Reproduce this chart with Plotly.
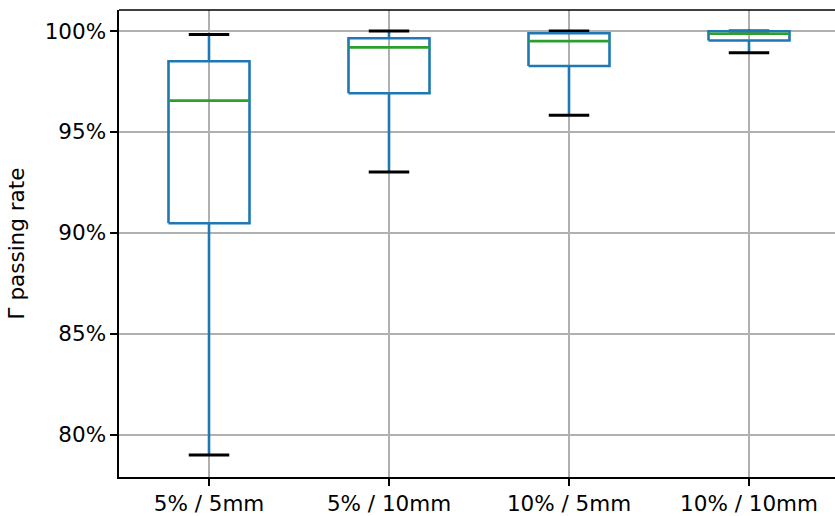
import plotly.graph_objects as go

categories = ["5% / 5mm", "5% / 10mm", "10% / 5mm", "10% / 10mm"]
whisker_low = [79.0, 93.02, 95.83, 98.92]
q1 = [90.48, 96.92, 98.27, 99.53]
median = [96.55, 99.19, 99.50, 99.86]
q3 = [98.50, 99.64, 99.89, 99.99]
whisker_high = [99.83, 100.0, 100.0, 100.0]

positions = list(range(1, len(categories) + 1))
box_w = 0.45
cap_w = box_w / 2

BLUE = "#1f77b4"
GREEN = "#2ca02c"

wx, wy, cx, cy, bx, by, mx, my = [], [], [], [], [], [], [], []
for p, lo, a, m, b, hi in zip(positions, whisker_low, q1, median, q3, whisker_high):
    wx += [p, p, None, p, p, None]
    wy += [a, lo, None, b, hi, None]
    cx += [p - cap_w / 2, p + cap_w / 2, None, p - cap_w / 2, p + cap_w / 2, None]
    cy += [lo, lo, None, hi, hi, None]
    l, r = p - box_w / 2, p + box_w / 2
    bx += [l, r, r, l, l, None]
    by += [a, a, b, b, a, None]
    mx += [l, r, None]
    my += [m, m, None]

fig = go.Figure()
fig.add_trace(go.Scatter(x=wx, y=wy, mode="lines", line=dict(color=BLUE, width=2.6), hoverinfo="skip"))
fig.add_trace(go.Scatter(x=cx, y=cy, mode="lines", line=dict(color="black", width=3), hoverinfo="skip"))
fig.add_trace(go.Scatter(x=bx, y=by, mode="lines", line=dict(color=BLUE, width=2.6), hoverinfo="skip"))
fig.add_trace(go.Scatter(x=mx, y=my, mode="lines", line=dict(color=GREEN, width=2.6), hoverinfo="skip"))

W, H = 835, 516
ml, mt, mb = 119, 10, 39
px_per_unit = 180.0
xmax = 0.5 + (W - ml) / px_per_unit

fig.update_layout(
    width=W, height=H,
    margin=dict(l=ml, r=0, t=mt, b=mb, pad=0),
    plot_bgcolor="white", paper_bgcolor="white",
    showlegend=False,
    font=dict(family="DejaVu Sans", size=21.5, color="black"),
    xaxis=dict(
        range=[0.5, xmax], tickmode="array", tickvals=positions, ticktext=categories,
        showgrid=True, gridcolor="#b0b0b0", gridwidth=1.6,
        showline=True, linecolor="black", linewidth=1.6,
        ticks="outside", ticklen=7, tickwidth=1.6, tickcolor="black",
        zeroline=False, automargin=False, fixedrange=True,
    ),
    yaxis=dict(
        range=[77.91, 101.04], tickmode="array", tickvals=[80, 85, 90, 95, 100],
        ticktext=["80%", "85%", "90%", "95%", "100%"],
        showgrid=True, gridcolor="#b0b0b0", gridwidth=1.6,
        showline=True, linecolor="black", linewidth=1.6,
        ticks="outside", ticklen=7, tickwidth=1.6, tickcolor="black",
        zeroline=False, automargin=False, fixedrange=True,
        title=dict(text="Γ passing rate", standoff=14, font=dict(size=21.5)),
    ),
    shapes=[dict(type="line", xref="paper", yref="paper", x0=0, x1=1, y0=1, y1=1,
                 line=dict(color="black", width=1.6))],
)

fig.write_html(
    "out.html",
    config={"displayModeBar": False, "staticPlot": True},
    post_script="document.documentElement.style.overflow='hidden';"
                "document.body.style.margin='0';document.body.style.overflow='hidden';",
)
